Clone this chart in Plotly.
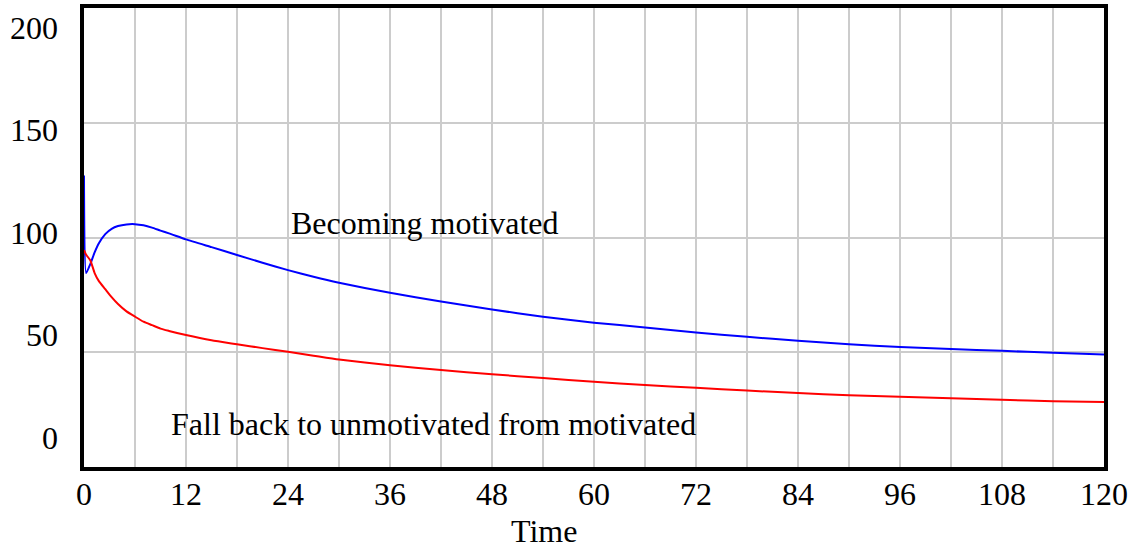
import plotly.graph_objects as go

# values (time in months)
time = [0, 0.25, 0.75, 1.25, 1.75, 2.5, 3.25, 4, 5, 6, 7, 8, 9, 10, 12, 15, 18, 21, 24, 27, 30,
        36, 42, 48, 54, 60, 66, 72, 78, 84, 90, 96, 102, 108, 114, 120]
becoming_motivated = [127, 84.5, 88.5, 93.5, 97.5, 101.5, 103.8, 105.0, 105.7, 105.8, 105.3, 104.3,
                      103.0, 101.8, 99.2, 95.8, 92.4, 89.0, 85.8, 82.9, 80.3, 75.9, 72.1, 68.6, 65.5,
                      62.9, 60.8, 58.6, 56.7, 55.0, 53.5, 52.3, 51.4, 50.6, 49.8, 49.0]
fall_back = [94.5, 92.5, 90.0, 84.5, 81.0, 77.5, 74.0, 71.0, 67.8, 65.5, 63.3, 61.8, 60.3, 59.3,
             57.5, 55.2, 53.5, 51.8, 50.2, 48.5, 46.8, 44.3, 42.3, 40.4, 38.8, 37.1, 35.7, 34.5,
             33.3, 32.2, 31.3, 30.6, 30.0, 29.3, 28.7, 28.3]

x_ticks = list(range(0, 121, 12))
y_ticks = [0, 50, 100, 150, 200]

font = "Liberation Serif, Times New Roman, serif"

fig = go.Figure()
fig.add_trace(go.Scatter(x=time, y=becoming_motivated, name="Becoming motivated",
                         mode="lines", line=dict(color="#0000ff", width=2, shape="spline", smoothing=0.5)))
fig.add_trace(go.Scatter(x=time, y=fall_back, name="Fall back to unmotivated from motivated",
                         mode="lines", line=dict(color="#ff0000", width=2, shape="spline", smoothing=0.5)))
# empty trace so the label axis gets drawn
fig.add_trace(go.Scatter(x=[], y=[], yaxis="y2", showlegend=False, hoverinfo="skip"))

# series labels, written inside the plot like the original
fig.add_annotation(x=24.1, y=106.3, text="Becoming motivated", showarrow=False,
                   xanchor="left", yanchor="middle", font=dict(size=32, color="black"))
fig.add_annotation(x=10.0, y=18.6, text="Fall back to unmotivated from motivated", showarrow=False,
                   xanchor="left", yanchor="middle", font=dict(size=32, color="black"))
fig.add_annotation(x=54.1, y=-0.1385, yref="paper", text="Time", showarrow=False,
                   xanchor="center", yanchor="middle", font=dict(size=32, color="black"))

fig.update_layout(
    width=1134, height=549,
    margin=dict(l=84, r=30, t=8, b=82, autoexpand=False),
    paper_bgcolor="white", plot_bgcolor="white",
    showlegend=False,
    font=dict(family=font, size=32, color="black"),
    xaxis=dict(range=[0, 120], tickvals=x_ticks,
               showgrid=True, gridcolor="#cccccc", gridwidth=1.5,
               minor=dict(dtick=6, showgrid=True, gridcolor="#cccccc", gridwidth=1.5),
               showline=True, linecolor="black", linewidth=4, mirror=True,
               zeroline=False, ticks="", ticklabelstandoff=-4, automargin=False),
    yaxis=dict(range=[0, 200], tickvals=y_ticks, showticklabels=False,
               showgrid=True, gridcolor="#cccccc", gridwidth=1.5,
               showline=True, linecolor="black", linewidth=4, mirror=True,
               zeroline=False, ticks="", automargin=False),
    # the tick numbers sit on their own spacing in the original
    yaxis2=dict(overlaying="y", side="left", anchor="x", range=[-14.4, 209.5],
                tickvals=y_ticks, showgrid=False, zeroline=False, showline=False,
                ticks="", ticklabelstandoff=25, automargin=False),
)

fig.write_html("out.html", config={"displayModeBar": False},
               post_script="document.body.style.margin='0';")
